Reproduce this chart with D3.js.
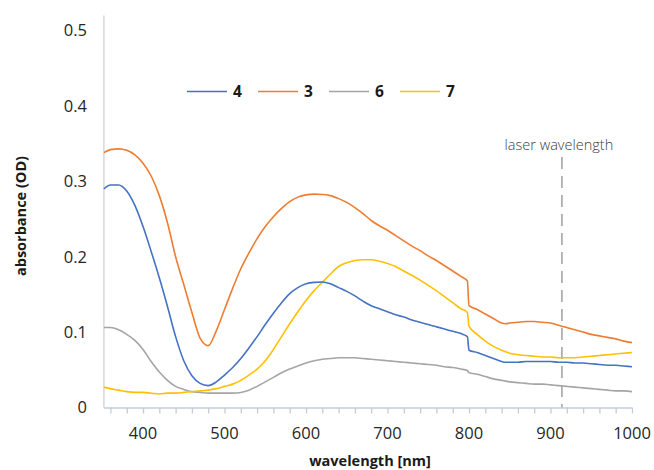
<!DOCTYPE html>
<html>
<head>
<meta charset="utf-8">
<script src="https://cdn.jsdelivr.net/npm/d3@7"></script>
<style>
  html, body { margin: 0; padding: 0; background: #fff; }
  svg { display: block; }
</style>
</head>
<body>
<script>
const wavelengths = [352,360,370,380,390,400,410,420,430,440,450,460,470,480,490,500,510,520,530,540,550,560,570,580,590,600,610,620,630,640,650,660,670,680,690,700,710,720,730,740,750,760,770,780,790,798,800,810,820,830,840,845,850,860,870,880,890,900,910,920,930,940,950,960,970,980,990,1000];

const s4 = [0.290,0.295,0.295,0.287,0.268,0.240,0.207,0.172,0.134,0.094,0.062,0.042,0.032,0.029,0.034,0.043,0.053,0.065,0.079,0.094,0.110,0.125,0.139,0.151,0.159,0.164,0.166,0.1665,0.164,0.159,0.154,0.148,0.141,0.135,0.131,0.127,0.123,0.120,0.116,0.113,0.110,0.107,0.104,0.101,0.098,0.094,0.076,0.073,0.069,0.065,0.061,0.060,0.060,0.060,0.061,0.061,0.061,0.061,0.060,0.060,0.059,0.059,0.058,0.057,0.056,0.056,0.055,0.054];

const s3 = [0.338,0.342,0.343,0.341,0.335,0.324,0.307,0.281,0.245,0.200,0.163,0.126,0.092,0.082,0.102,0.130,0.158,0.184,0.205,0.224,0.240,0.253,0.264,0.273,0.279,0.282,0.283,0.2825,0.281,0.277,0.272,0.265,0.257,0.248,0.241,0.235,0.228,0.221,0.214,0.208,0.201,0.195,0.188,0.181,0.174,0.168,0.135,0.130,0.124,0.118,0.112,0.111,0.112,0.113,0.114,0.114,0.113,0.112,0.109,0.106,0.103,0.100,0.097,0.095,0.093,0.091,0.088,0.086];

const s6 = [0.106,0.106,0.103,0.097,0.089,0.077,0.061,0.047,0.036,0.028,0.024,0.021,0.020,0.019,0.019,0.019,0.019,0.020,0.023,0.028,0.034,0.040,0.046,0.051,0.055,0.059,0.062,0.064,0.065,0.066,0.066,0.066,0.065,0.064,0.063,0.062,0.061,0.060,0.059,0.058,0.057,0.056,0.054,0.053,0.051,0.049,0.046,0.044,0.041,0.038,0.036,0.035,0.034,0.033,0.032,0.031,0.031,0.030,0.029,0.028,0.027,0.026,0.025,0.024,0.023,0.022,0.022,0.021];

const s7 = [0.027,0.025,0.023,0.021,0.020,0.020,0.019,0.018,0.019,0.019,0.020,0.021,0.022,0.023,0.025,0.028,0.031,0.036,0.043,0.051,0.062,0.077,0.094,0.111,0.127,0.142,0.155,0.166,0.177,0.187,0.192,0.195,0.196,0.196,0.194,0.191,0.187,0.181,0.175,0.169,0.162,0.155,0.147,0.139,0.131,0.126,0.108,0.097,0.088,0.081,0.076,0.074,0.072,0.070,0.069,0.068,0.067,0.067,0.066,0.066,0.066,0.067,0.068,0.069,0.070,0.071,0.072,0.073];

const seriesNames = ["4","3","6","7"];
const seriesValues = [s4, s3, s6, s7];
const seriesColors = ["#4472C4","#ED7D31","#A5A5A5","#FFC000"];

const yTicks = [0, 0.1, 0.2, 0.3, 0.4, 0.5];
const yTickLabels = ["0","0.1","0.2","0.3","0.4","0.5"];
const xMajorTicks = [400,500,600,700,800,900,1000];
const xMinorTicks = d3.range(360, 1001, 20);
const laserWavelength = 914;
const xTitle = "wavelength [nm]";
const yTitle = "absorbance (OD)";
const laserLabel = "laser wavelength";

const W = 654, H = 470;
const svg = d3.select("body").append("svg").attr("width", W).attr("height", H);

const x = d3.scaleLinear().domain([352, 1000]).range([103.9, 632]);
const y = d3.scaleLinear().domain([0, 0.52]).range([407.5, 15.4]);

const font = "'Open Sans', sans-serif";
const axisColor = "#C4CCDA";

// y axis line (no ticks)
svg.append("line")
  .attr("x1", x(352)).attr("x2", x(352))
  .attr("y1", y(0.52)).attr("y2", y(0))
  .attr("stroke", "#D0D0D0").attr("stroke-width", 1.3);

// y tick labels
svg.append("g").selectAll("text").data(yTicks).join("text")
  .attr("x", 87).attr("y", d => y(d))
  .attr("dy", "0.36em")
  .attr("text-anchor", "end")
  .attr("font-family", font).attr("font-size", 16.5).attr("fill", "#262626")
  .text((d, i) => yTickLabels[i]);

// x axis with minor ticks
const xAxis = d3.axisBottom(x).tickValues(xMinorTicks).tickSize(6).tickFormat("");
const gx = svg.append("g").attr("transform", `translate(0,${y(0)})`).call(xAxis);
gx.select(".domain").attr("stroke", axisColor).attr("stroke-width", 1.5).attr("d", `M${x(352)},0.5H${x(1000)}`);
gx.selectAll(".tick line").attr("stroke", axisColor).attr("stroke-width", 1.3);

// x tick labels
svg.append("g").selectAll("text").data(xMajorTicks).join("text")
  .attr("x", d => x(d)).attr("y", 439)
  .attr("text-anchor", "middle")
  .attr("font-family", font).attr("font-size", 16.5).attr("fill", "#262626")
  .text(d => d);

// laser wavelength marker
svg.append("line")
  .attr("x1", x(laserWavelength)).attr("x2", x(laserWavelength))
  .attr("y1", 157).attr("y2", y(0))
  .attr("stroke", "#A6A6A6").attr("stroke-width", 1.6)
  .attr("stroke-dasharray", "12,7");
svg.append("text")
  .attr("x", x(laserWavelength) - 3).attr("y", 150)
  .attr("text-anchor", "middle")
  .attr("font-family", font).attr("font-weight", 300).attr("font-size", 14.5).attr("fill", "#404040")
  .text(laserLabel);

// series lines
const line = d3.line().x((d, i) => x(wavelengths[i])).y(d => y(d)).curve(d3.curveMonotoneX);
const drawOrder = [2, 3, 0, 1];
drawOrder.forEach(k => {
  svg.append("path")
    .datum(seriesValues[k])
    .attr("fill", "none")
    .attr("stroke", seriesColors[k])
    .attr("stroke-width", 1.6)
    .attr("stroke-linejoin", "round")
    .attr("d", line);
});

// legend
const legendX = [187, 258, 329, 400];
const leg = svg.append("g");
seriesNames.forEach((name, i) => {
  leg.append("line")
    .attr("x1", legendX[i]).attr("x2", legendX[i] + 40)
    .attr("y1", 91.5).attr("y2", 91.5)
    .attr("stroke", seriesColors[i]).attr("stroke-width", 1.6);
  leg.append("text")
    .attr("x", legendX[i] + 46).attr("y", 91.5).attr("dy", "0.36em")
    .attr("font-family", font).attr("font-weight", 700).attr("font-size", 15.5)
    .attr("fill", "#1a1a1a")
    .text(name);
});

// axis titles
svg.append("text")
  .attr("x", 370).attr("y", 466)
  .attr("text-anchor", "middle")
  .attr("font-family", font).attr("font-weight", 700).attr("font-size", 14.5)
  .attr("fill", "#1a1a1a")
  .text(xTitle);

svg.append("text")
  .attr("transform", `translate(26,${216}) rotate(-90)`)
  .attr("text-anchor", "middle")
  .attr("font-family", font).attr("font-weight", 700).attr("font-size", 14.5)
  .attr("fill", "#1a1a1a")
  .text(yTitle);
</script>
</body>
</html>
